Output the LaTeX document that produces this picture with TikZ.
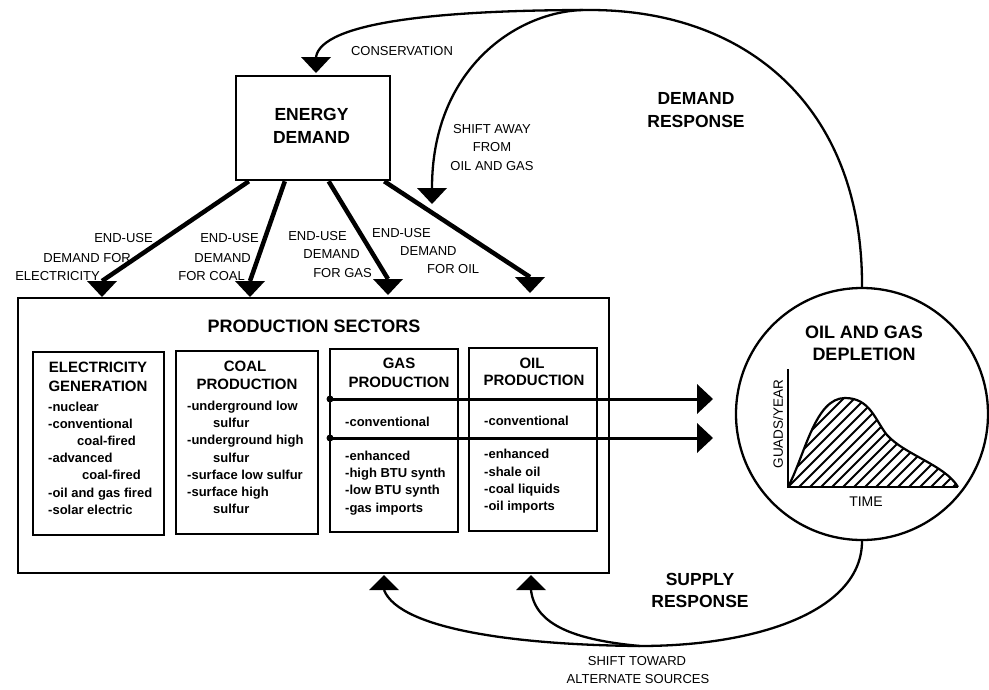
\documentclass[tikz,border=0pt]{standalone}
\usepackage{fontspec}
\setmainfont{Liberation Sans}
\usetikzlibrary{calc}
\begin{document}
\begin{tikzpicture}[x=1pt,y=-1pt,
  lbl/.style={font=\fontsize{13}{15}\selectfont, inner sep=0},
  blbl/.style={font=\fontsize{17.5}{20}\selectfont\bfseries, inner sep=0, anchor=base},
  ttl/.style={font=\fontsize{15}{17}\selectfont\bfseries, inner sep=0, anchor=base},
  itm/.style={font=\fontsize{13}{15}\selectfont\bfseries, inner sep=0, anchor=base west},
  bigbox/.style={draw, line width=2.6pt, rectangle, inner sep=0},
  subbox/.style={draw, line width=2pt, rectangle, inner sep=0},
  conn/.style={line width=2.3pt},
  fatline/.style={line width=4.5pt},
  midline/.style={line width=3pt},
  tridown/.pic={\fill (-15,0) -- (15,0) -- (0,16) -- cycle;},
  triup/.pic={\fill (-15,0) -- (15,0) -- (0,-15) -- cycle;},
  triright/.pic={\fill (0,-15) -- (0,15) -- (16,0) -- cycle;}
]
\useasboundingbox (0,0) rectangle (989,689);

% ---------- Energy demand ----------
\node[bigbox, minimum width=154pt, minimum height=104pt] (ed) at (313,128) {};
\node[blbl] (edt1) at (311.5,120) {ENERGY};
\node[blbl] (edt2) at (311.5,143) {DEMAND};

% ---------- Production sectors ----------
\node[bigbox, minimum width=591pt, minimum height=275pt] (ps) at (313.5,435.5) {};
\node[font=\fontsize{18}{20}\selectfont\bfseries, inner sep=0, anchor=base] (pst) at (314,332) {PRODUCTION SECTORS};

\node[subbox, minimum width=131pt, minimum height=183pt] (el) at (98.5,443.5) {};
\node[subbox, minimum width=142pt, minimum height=183pt] (co) at (247,442.5) {};
\node[subbox, minimum width=128pt, minimum height=183pt] (ga) at (394,440.5) {};
\node[subbox, minimum width=128pt, minimum height=183pt] (oi) at (533,439.5) {};

\node[ttl] (elt1) at (98,372) {ELECTRICITY};
\node[ttl] (elt2) at (98,391) {GENERATION};
\node[ttl] (cot1) at (245,371) {COAL};
\node[ttl] (cot2) at (247,389) {PRODUCTION};
\node[ttl] (gat1) at (399,368) {GAS};
\node[ttl] (gat2) at (399,387) {PRODUCTION};
\node[ttl] (oit1) at (532,368) {OIL};
\node[ttl] (oit2) at (534,385) {PRODUCTION};

\foreach \yy/\xx/\tt [count=\n] in {411/48/-nuclear, 428/48/-conventional, 445/77/coal-fired,
   462/48/-advanced, 479/82/coal-fired, 497/48/-oil and gas fired, 514/48/-solar electric}
  \node[itm] (eli\n) at (\xx,\yy) {\tt};
\foreach \yy/\xx/\tt [count=\n] in {410/187/-underground low, 427/213/sulfur, 444/187/-underground high,
   462/213/sulfur, 479/187/-surface low sulfur, 496/187/-surface high, 513/213/sulfur}
  \node[itm] (coi\n) at (\xx,\yy) {\tt};
\foreach \yy/\xx/\tt [count=\n] in {426/345/-conventional, 460/345/-enhanced, 477/345/-high BTU synth,
   494/345/-low BTU synth, 512/345/-gas imports}
  \node[itm] (gai\n) at (\xx,\yy) {\tt};
\foreach \yy/\xx/\tt [count=\n] in {425/484/-conventional, 458/484/-enhanced, 476/484/-shale oil,
   493/484/-coal liquids, 510/484/-oil imports}
  \node[itm] (oii\n) at (\xx,\yy) {\tt};

% ---------- Depletion circle ----------
\node[circle, draw, line width=2.3pt, minimum size=252pt, inner sep=0] (cir) at (862,414) {};
\node[font=\fontsize{18}{20}\selectfont\bfseries, inner sep=0, anchor=base] (cirt1) at (864,338) {OIL AND GAS};
\node[font=\fontsize{18}{20}\selectfont\bfseries, inner sep=0, anchor=base] (cirt2) at (864,360) {DEPLETION};
\begin{scope}
  \clip (788,487) .. controls (805,455) and (815,398) .. (845,398)
        .. controls (870,398) and (875,420) .. (887,435)
        .. controls (905,455) and (945,465) .. (958,487) -- cycle;
  \foreach \i in {-88,-77,...,180}
    \draw[line width=1.9pt] (788+\i,487) -- ++(140,-140);
\end{scope}
\draw[line width=2.2pt] (788,487) .. controls (805,455) and (815,398) .. (845,398)
        .. controls (870,398) and (875,420) .. (887,435)
        .. controls (905,455) and (945,465) .. (958,487);
\coordinate (ytop) at (788,369);
\coordinate (orig) at (788,487);
\coordinate (xend) at (958,487);
\draw[line width=2.4pt] (ytop) -- (orig) -- (xend);
\node[font=\fontsize{13.5}{15}\selectfont, inner sep=0, rotate=90] (gy) at (778,424) {GUADS/YEAR};
\node[font=\fontsize{14}{16}\selectfont, inner sep=0, anchor=base] (tm) at (866,506) {TIME};

% ---------- End-use arrows ----------
\coordinate (a1) at (102,281);
\coordinate (a2) at (250,281);
\coordinate (a3) at (388,279);
\coordinate (a4) at (530,277);
\draw[fatline] ($(ed.south west)!0.09!(ed.south east)$) -- (a1);
\draw[fatline] ($(ed.south west)!0.32!(ed.south east)$) -- (a2);
\draw[fatline] ($(ed.south west)!0.60!(ed.south east)$) -- (a3);
\draw[fatline] ($(ed.south west)!0.955!(ed.south east)$) -- (a4);
\pic at (a1) {tridown};
\pic at (a2) {tridown};
\pic at (a3) {tridown};
\pic at (a4) {tridown};

\node[lbl, anchor=base east] (l11) at (153,242) {END-USE};
\node[lbl, anchor=base east] (l12) at (131,262) {DEMAND FOR};
\node[lbl, anchor=base east] (l13) at (100,280) {ELECTRICITY};
\node[lbl, anchor=base east] (l21) at (259,242) {END-USE};
\node[lbl, anchor=base east] (l22) at (251,262) {DEMAND};
\node[lbl, anchor=base east] (l23) at (245,280) {FOR COAL};
\node[lbl, anchor=base east] (l31) at (347,240) {END-USE};
\node[lbl, anchor=base east] (l32) at (360,258) {DEMAND};
\node[lbl, anchor=base east] (l33) at (372,277) {FOR GAS};
\node[lbl, anchor=base west] (l41) at (372,237) {END-USE};
\node[lbl, anchor=base west] (l42) at (400,255) {DEMAND};
\node[lbl, anchor=base west] (l43) at (427,273) {FOR OIL};

% ---------- Demand response loop ----------
\coordinate (ctop) at (590,10);
\coordinate (sa) at (583,10);
\coordinate (cons) at (316,57);
\coordinate (shift) at (432,188);
\draw[conn] (cir.north) .. controls (863,110) and (750,10) .. (ctop)
            .. controls (440,10) and (322,22) .. (cons);
\draw[conn] (sa) .. controls (515,12) and (432,70) .. (shift);
\pic at (cons) {tridown};
\pic at (shift) {tridown};
\node[lbl, anchor=base] (lcons) at (402,55) {CONSERVATION};
\node[lbl, anchor=base] (lsa1) at (492,133) {SHIFT AWAY};
\node[lbl, anchor=base] (lsa2) at (492,151) {FROM};
\node[lbl, anchor=base] (lsa3) at (492,170) {OIL AND GAS};
\node[blbl] (dr1) at (696,104) {DEMAND};
\node[blbl] (dr2) at (696,127) {RESPONSE};

% ---------- Depletion arrows ----------
\coordinate (d1) at (330,399);
\coordinate (d2) at (330,438);
\coordinate (r1) at (697,399);
\coordinate (r2) at (697,438);
\fill (d1) circle (3.5pt);
\fill (d2) circle (3.5pt);
\draw[midline] (d1) -- (r1);
\draw[midline] (d2) -- (r2);
\pic at (r1) {triright};
\pic at (r2) {triright};

% ---------- Supply response loop ----------
\coordinate (jn) at (640,646);
\coordinate (u1) at (384,590);
\coordinate (u2) at (531,590);
\draw[conn] (cir.south) .. controls (862,610) and (760,646) .. (jn);
\draw[conn] (jn) .. controls (520,645) and (400,630) .. (u1);
\draw[conn] (jn) .. controls (575,640) and (535,625) .. (u2);
\pic at (u1) {triup};
\pic at (u2) {triup};
\node[blbl] (sr1) at (700,585) {SUPPLY};
\node[blbl] (sr2) at (700,607) {RESPONSE};
\node[lbl, anchor=base] (st1) at (637,665) {SHIFT TOWARD};
\node[lbl, anchor=base] (st2) at (638,683) {ALTERNATE SOURCES};
\end{tikzpicture}
\end{document}
